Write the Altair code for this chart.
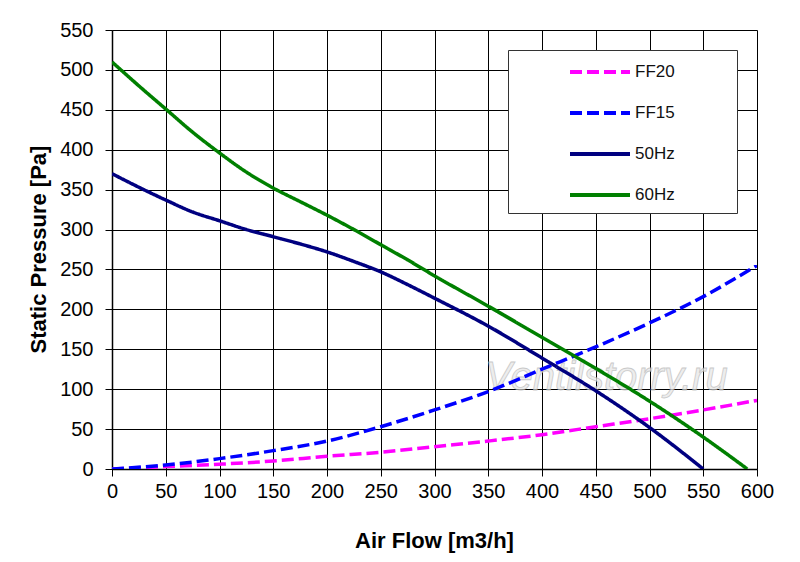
import altair as alt
import pandas as pd

# --- data ---
ff20_x = [0, 50, 100, 150, 200, 250, 300, 350, 400, 450, 500, 550, 600]
ff20_y = [0, 3, 6, 10, 16, 21, 28, 35, 43, 53, 63, 74, 86]

ff15_x = [0, 50, 100, 150, 200, 250, 300, 350, 400, 450, 500, 550, 600]
ff15_y = [0, 5, 13, 23, 35, 53, 74, 97, 125, 153, 183, 216, 255]

hz50_x = [0, 25, 50, 75, 100, 125, 150, 175, 200, 225, 250, 275, 300, 350, 400, 450, 500, 550]
hz50_y = [370, 353, 337, 322, 311, 300, 291, 282, 272, 260, 247, 231, 214, 179, 139, 98, 52, 0]

hz60_x = [0, 25, 50, 75, 100, 125, 150, 175, 200, 225, 250, 275, 300, 350, 400, 450, 500, 550, 591]
hz60_y = [510, 480, 451, 422, 396, 372, 352, 335, 318, 300, 281, 262, 242, 204, 165, 126, 85, 40, 0]

series_names = ["FF20", "FF15", "50Hz", "60Hz"]
series_colors = ["#ff00ff", "#0000ff", "#000080", "#008000"]
series_dash = [[12, 5], [12, 5], [1, 0], [1, 0]]

x_ticks = list(range(0, 601, 50))
y_ticks = list(range(0, 551, 50))

watermark_text = ["Ventilstorry.ru"]
watermark_x = [460]
watermark_y = [114]

rows = []
for name, xs, ys in [("FF20", ff20_x, ff20_y), ("FF15", ff15_x, ff15_y),
                     ("50Hz", hz50_x, hz50_y), ("60Hz", hz60_x, hz60_y)]:
    for i, (a, b) in enumerate(zip(xs, ys)):
        rows.append({"series": name, "flow": a, "pressure": b, "order": i})
df = pd.DataFrame(rows)

wm = pd.DataFrame({"text": watermark_text, "flow": watermark_x, "pressure": watermark_y})

FONT = "Liberation Sans"
pad = "\u00a0" * 11 + "\u200b"

legend = alt.Legend(
    title=None, orient="none", legendX=396, legendY=20,
    fillColor="white", strokeColor="#333333", padding=10,
    symbolType="M-3,0H3", symbolSize=400, symbolStrokeWidth=4,
    symbolOffset=70, rowPadding=21, labelOffset=23,
    labelFont=FONT, labelFontSize=17, labelColor="#111111",
    labelExpr="datum.label + '" + pad + "'",
)

x_enc = alt.X("flow:Q", scale=alt.Scale(domain=[0, 600], nice=False, zero=True),
              axis=alt.Axis(values=x_ticks, title="Air Flow [m3/h]", labelFlush=False,
                            titleX=322, titleY=71, titleBaseline="middle"))
y_enc = alt.Y("pressure:Q", scale=alt.Scale(domain=[0, 550], nice=False),
              axis=alt.Axis(values=y_ticks, title="Static Pressure [Pa]", labelFlush=False,
                            titleX=-74, titleY=219, titleBaseline="middle"))

lines = alt.Chart(df).mark_line(strokeWidth=3.5, interpolate="monotone", clip=True).encode(
    x=x_enc,
    y=y_enc,
    color=alt.Color("series:N", scale=alt.Scale(domain=series_names, range=series_colors), legend=legend),
    strokeDash=alt.StrokeDash("series:N", scale=alt.Scale(domain=series_names, range=series_dash), legend=legend),
    order="order:Q",
)

watermark = alt.Chart(wm).mark_text(
    font=FONT, fontSize=40, fontStyle="italic", fill="#e8e8e8", stroke="#b8b8b8",
    strokeWidth=0.8, opacity=0.75,
).encode(x=x_enc, y=y_enc, text="text:N")

chart = alt.layer(watermark, lines).properties(
    width=645, height=439,
    autosize=alt.AutoSizeParams(type="none"),
    padding={"left": 104, "top": 22, "right": 35, "bottom": 85},
    background="white",
).configure_view(stroke=None).configure_axis(
    grid=True, gridColor="#000000", gridOpacity=1, gridWidth=1,
    domainColor="#000000", domainWidth=1.5,
    tickColor="#000000", tickSize=7, tickWidth=1,
    labelFont=FONT, labelFontSize=20, labelColor="#000000",
    titleFont=FONT, titleFontSize=22, titleFontWeight="bold", titleColor="#000000",
).configure_axisX(labelPadding=5).configure_axisY(labelPadding=12)

chart.save("out.html", embed_options={"renderer": "svg", "actions": False})
